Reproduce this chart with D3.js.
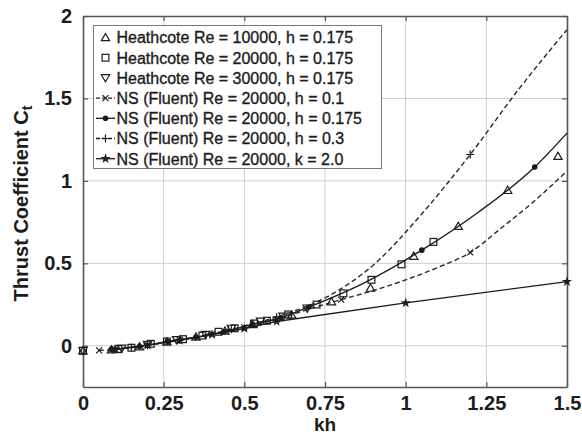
<!DOCTYPE html>
<html>
<head>
<meta charset="utf-8">
<script src="https://cdn.jsdelivr.net/npm/d3@7"></script>
<style>
  html, body { margin: 0; padding: 0; background: #fff; }
  svg { display: block; font-family: "Liberation Sans", Arial, Helvetica, sans-serif; }
</style>
</head>
<body>
<svg id="chart" width="582" height="434"></svg>
<script>
// Axis ticks
const xTicks = [0, 0.25, 0.5, 0.75, 1, 1.25, 1.5];
const xTickLabels = ["0", "0.25", "0.5", "0.75", "1", "1.25", "1.5"];
const yTicks = [0, 0.5, 1, 1.5, 2];
const yTickLabels = ["0", "0.5", "1", "1.5", "2"];

// Heathcote experiments (h = 0.175)
const heathRe10kKh = [0.0, 0.088, 0.175, 0.26, 0.35, 0.44, 0.525, 0.647, 0.77, 0.891, 1.025, 1.163, 1.316, 1.472];
const heathRe10kCt = [-0.03, -0.024, -0.005, 0.024, 0.054, 0.09, 0.13, 0.187, 0.268, 0.35, 0.544, 0.725, 0.943, 1.15];
const heathRe20kKh = [0.0, 0.11, 0.15, 0.21, 0.26, 0.31, 0.37, 0.42, 0.47, 0.53, 0.57, 0.636, 0.724, 0.807, 0.894, 0.987, 1.086];
const heathRe20kCt = [-0.03, -0.02, -0.012, 0.012, 0.026, 0.04, 0.062, 0.085, 0.106, 0.135, 0.152, 0.19, 0.25, 0.318, 0.40, 0.494, 0.63];
const heathRe30kKh = [0.0, 0.12, 0.2, 0.29, 0.38, 0.46, 0.55, 0.62, 0.695];
const heathRe30kCt = [-0.03, -0.016, 0.008, 0.036, 0.068, 0.105, 0.148, 0.178, 0.228];

// NS (Fluent) computations, Re = 20000: curve points and the computed cases
const nsH01Kh = [0.05, 0.1, 0.2, 0.3, 0.4, 0.5, 0.6, 0.7, 0.8, 0.9, 1.0, 1.1, 1.2, 1.3, 1.4, 1.5];
const nsH01Ct = [-0.028, -0.022, 0.005, 0.035, 0.072, 0.112, 0.16, 0.222, 0.28, 0.335, 0.40, 0.475, 0.566, 0.72, 0.88, 1.06];
const nsH01Marked = [0.05, 0.1, 0.2, 0.3, 0.4, 0.5, 0.6, 0.8, 1.2];

const nsH0175Kh = [0.0875, 0.175, 0.2625, 0.35, 0.4375, 0.525, 0.6125, 0.7, 0.875, 1.05, 1.225, 1.4, 1.5];
const nsH0175Ct = [-0.022, -0.004, 0.026, 0.052, 0.085, 0.13, 0.17, 0.235, 0.385, 0.58, 0.81, 1.084, 1.29];
const nsH0175Marked = [0.0875, 0.175, 0.2625, 0.35, 0.4375, 0.525, 0.6125, 0.7, 1.05, 1.4];

const nsH03Kh = [0.15, 0.3, 0.45, 0.6, 0.75, 0.9, 1.05, 1.2, 1.35, 1.5];
const nsH03Ct = [-0.01, 0.035, 0.095, 0.175, 0.29, 0.49, 0.80, 1.16, 1.555, 1.917];
const nsH03Marked = [0.15, 0.3, 0.45, 0.6, 1.2];

const nsK2Kh = [0.1, 0.2, 0.3, 0.4, 0.5, 0.6, 1.0, 1.5];
const nsK2Ct = [-0.022, 0.004, 0.033, 0.068, 0.105, 0.147, 0.26, 0.389];

const legendLabels = [
  "Heathcote Re = 10000, h = 0.175",
  "Heathcote Re = 20000, h = 0.175",
  "Heathcote Re = 30000, h = 0.175",
  "NS (Fluent) Re = 20000, h = 0.1",
  "NS (Fluent) Re = 20000, h = 0.175",
  "NS (Fluent) Re = 20000, h = 0.3",
  "NS (Fluent) Re = 20000, k = 2.0"
];

const svg = d3.select("#chart");
const x = d3.scaleLinear().domain([0, 1.5]).range([83, 567]);
const y = d3.scaleLinear().domain([-0.25, 2]).range([387, 16]);
const ink = "#1c1c1c";

// grid
const grid = svg.append("g");
grid.selectAll("line.gx").data(xTicks.filter(t => t > 0 && t < 1.5)).join("line")
  .attr("x1", d => x(d)).attr("x2", d => x(d)).attr("y1", y(2)).attr("y2", y(-0.25))
  .attr("stroke", "#cfcfcf").attr("stroke-width", 1);
grid.selectAll("line.gy").data(yTicks.filter(t => t < 2)).join("line")
  .attr("x1", x(0)).attr("x2", x(1.5)).attr("y1", d => y(d)).attr("y2", d => y(d))
  .attr("stroke", "#cfcfcf").attr("stroke-width", 1);

// axes with inward ticks on all four sides
const tickLen = 5;
const axB = svg.append("g").attr("transform", `translate(0,${y(-0.25)})`)
  .call(d3.axisBottom(x).tickValues(xTicks).tickFormat((d, i) => xTickLabels[i]).tickSizeInner(-tickLen).tickSizeOuter(0).tickPadding(9));
const axT = svg.append("g").attr("transform", `translate(0,${y(2)})`)
  .call(d3.axisTop(x).tickValues(xTicks).tickFormat("").tickSizeInner(-tickLen).tickSizeOuter(0));
const axL = svg.append("g").attr("transform", `translate(${x(0)},0)`)
  .call(d3.axisLeft(y).tickValues(yTicks).tickFormat((d, i) => yTickLabels[i]).tickSizeInner(-tickLen).tickSizeOuter(0).tickPadding(11));
const axR = svg.append("g").attr("transform", `translate(${x(1.5)},0)`)
  .call(d3.axisRight(y).tickValues(yTicks).tickFormat("").tickSizeInner(-tickLen).tickSizeOuter(0));
[axB, axT, axL, axR].forEach(a => {
  a.select(".domain").attr("stroke", "#555").attr("stroke-width", 1.6);
  a.selectAll(".tick line").attr("stroke", "#555").attr("stroke-width", 1.2);
  a.selectAll("text").attr("fill", ink).style("font-size", "20px").style("font-weight", "bold")
    .style("font-family", "'Liberation Sans', Arial, sans-serif");
});

// axis titles
svg.append("text").attr("x", x(0.75)).attr("y", 431).attr("text-anchor", "middle")
  .attr("fill", ink).style("font-size", "19px").style("font-weight", "bold").text("kh");
const yt = svg.append("text").attr("transform", `translate(28,${(y(2) + y(-0.25)) / 2 + 2}) rotate(-90)`)
  .attr("text-anchor", "middle").attr("fill", ink).style("font-size", "20px").style("font-weight", "bold");
yt.append("tspan").text("Thrust Coefficient C");
yt.append("tspan").attr("dy", 4).style("font-size", "14px").text("t");

// marker drawers
function drawMarker(g, type, cx, cy) {
  if (type === "tri") {
    g.append("path").attr("d", d3.symbol(d3.symbolTriangle, 30)()).attr("transform", `translate(${cx},${cy + 0.8})`)
      .attr("fill", "none").attr("stroke", ink).attr("stroke-width", 1.2);
  } else if (type === "tridown") {
    g.append("path").attr("d", d3.symbol(d3.symbolTriangle, 30)()).attr("transform", `translate(${cx},${cy - 0.8}) rotate(180)`)
      .attr("fill", "none").attr("stroke", ink).attr("stroke-width", 1.2);
  } else if (type === "square") {
    g.append("rect").attr("x", cx - 3.4).attr("y", cy - 3.4).attr("width", 6.8).attr("height", 6.8)
      .attr("fill", "none").attr("stroke", ink).attr("stroke-width", 1.2);
  } else if (type === "cross") {
    g.append("path").attr("d", `M${cx - 3},${cy - 3}L${cx + 3},${cy + 3}M${cx - 3},${cy + 3}L${cx + 3},${cy - 3}`)
      .attr("stroke", ink).attr("stroke-width", 1.2);
  } else if (type === "plus") {
    g.append("path").attr("d", `M${cx - 4},${cy}L${cx + 4},${cy}M${cx},${cy - 4}L${cx},${cy + 4}`)
      .attr("stroke", ink).attr("stroke-width", 1.2);
  } else if (type === "dot") {
    g.append("circle").attr("cx", cx).attr("cy", cy).attr("r", 2.8).attr("fill", ink);
  } else if (type === "star") {
    g.append("path").attr("d", d3.symbol(d3.symbolStar, 32)()).attr("transform", `translate(${cx},${cy})`)
      .attr("fill", ink);
  }
}

const line = d3.line().x(d => x(d[0])).y(d => y(d[1])).curve(d3.curveMonotoneX);
const zip = (a, b) => a.map((v, i) => [v, b[i]]);

const nsSeries = [
  { kh: nsH01Kh, ct: nsH01Ct, marked: nsH01Marked, marker: "cross", dash: "5,3" },
  { kh: nsH0175Kh, ct: nsH0175Ct, marked: nsH0175Marked, marker: "dot", dash: null },
  { kh: nsH03Kh, ct: nsH03Ct, marked: nsH03Marked, marker: "plus", dash: "5,3" },
  { kh: nsK2Kh, ct: nsK2Ct, marked: nsK2Kh, marker: "star", dash: null, linear: true }
];

const plot = svg.append("g");
nsSeries.forEach(s => {
  const gen = s.linear ? d3.line().x(d => x(d[0])).y(d => y(d[1])) : line;
  plot.append("path").attr("d", gen(zip(s.kh, s.ct))).attr("fill", "none")
    .attr("stroke", s.dash ? "#2a2a2a" : ink).attr("stroke-width", 1.4)
    .attr("stroke-dasharray", s.dash);
});
nsSeries.forEach(s => {
  const g = plot.append("g");
  s.kh.forEach((k, i) => { if (s.marked.includes(k)) drawMarker(g, s.marker, x(k), y(s.ct[i])); });
});

const heath = [
  { kh: heathRe10kKh, ct: heathRe10kCt, marker: "tri" },
  { kh: heathRe20kKh, ct: heathRe20kCt, marker: "square" },
  { kh: heathRe30kKh, ct: heathRe30kCt, marker: "tridown" }
];
heath.forEach(s => {
  const g = plot.append("g");
  s.kh.forEach((k, i) => drawMarker(g, s.marker, x(k), y(s.ct[i])));
});

// legend
const lg = svg.append("g");
lg.append("rect").attr("x", 93.5).attr("y", 25.5).attr("width", 288).attr("height", 143)
  .attr("fill", "#fff").attr("stroke", "#777").attr("stroke-width", 1);
const legendMarkers = ["tri", "square", "tridown", "cross", "dot", "plus", "star"];
const legendDash = [null, null, null, "4,2", null, "4,2", null];
legendLabels.forEach((lab, i) => {
  const cy = 37.5 + i * 20.2;
  if (i >= 3) {
    lg.append("line").attr("x1", 96).attr("x2", 115).attr("y1", cy).attr("y2", cy)
      .attr("stroke", ink).attr("stroke-width", 1.3).attr("stroke-dasharray", legendDash[i]);
  }
  drawMarker(lg, legendMarkers[i], 105.5, cy);
  lg.append("text").attr("x", 116.5).attr("y", cy + 5.8).attr("fill", ink)
    .attr("stroke", ink).attr("stroke-width", 0.35)
    .style("font-size", "16px").text(lab);
});
</script>
</body>
</html>
